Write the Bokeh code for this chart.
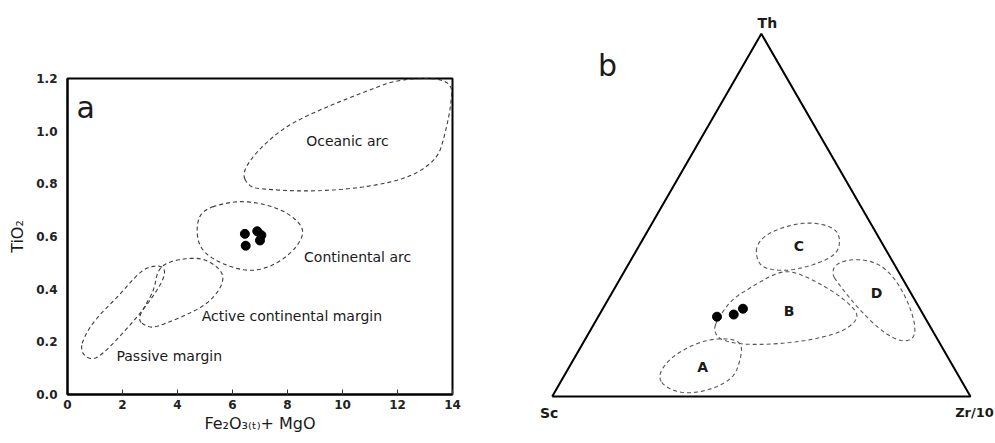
import numpy as np
from bokeh.plotting import figure
from bokeh.layouts import row, column
from bokeh.models import Range1d, FixedTicker, CustomJSTickFormatter
from bokeh.core.properties import value
from bokeh.embed import file_html
from bokeh.resources import INLINE

# ---------------- Panel a data ----------------
a_x = [6.45, 6.48, 6.90, 7.05, 7.00]
a_y = [0.61, 0.565, 0.62, 0.605, 0.585]

oceanic_x = [6.33, 6.6, 7.03, 8.85, 10.9, 12.49, 13.45, 13.7, 13.94, 14.0, 12.12, 10.91, 9.09, 7.88, 6.9]
oceanic_y = [0.84, 0.79, 0.78, 0.77, 0.787, 0.825, 0.895, 0.977, 1.09, 1.2, 1.2, 1.154, 1.078, 1.015, 0.926]

cont_x = [4.85, 5.82, 6.67, 7.76, 8.43, 8.61, 8.24, 7.52, 6.61, 5.57, 4.85, 4.67]
cont_y = [0.699, 0.73, 0.734, 0.705, 0.655, 0.61, 0.547, 0.49, 0.465, 0.497, 0.547, 0.623]

active_x = [2.55, 2.91, 3.27, 4.85, 5.45, 5.7, 5.52, 4.97, 4.36, 3.64, 3.27, 3.15, 2.79]
active_y = [0.282, 0.256, 0.256, 0.326, 0.383, 0.44, 0.48, 0.516, 0.518, 0.503, 0.471, 0.396, 0.332]

passive_x = [0.545, 0.49, 0.79, 1.21, 2.55, 3.27, 3.54, 3.51, 3.15, 2.67, 1.82, 0.97]
passive_y = [0.206, 0.162, 0.133, 0.143, 0.294, 0.396, 0.452, 0.484, 0.49, 0.471, 0.37, 0.282]

a_labels = ["Oceanic arc", "Continental arc", "Active continental margin", "Passive margin"]
a_label_x = [10.18, 10.55, 8.16, 3.7]
a_label_y = [0.964, 0.524, 0.297, 0.145]

x_ticks = [0, 2, 4, 6, 8, 10, 12, 14]
y_ticks = [0.0, 0.2, 0.4, 0.6, 0.8, 1.0, 1.2]

# ---------------- Panel b data (ternary fractions) ----------------
b_th = [0.22, 0.226, 0.242]
b_zr = [0.284, 0.321, 0.335]

A_th = [0.053, 0.021, 0.007, 0.021, 0.053, 0.099, 0.141, 0.159, 0.159, 0.136, 0.099]
A_zr = [0.225, 0.265, 0.320, 0.376, 0.408, 0.400, 0.384, 0.355, 0.299, 0.255, 0.226]

B_th = [0.21, 0.182, 0.154, 0.141, 0.15, 0.173, 0.2, 0.228, 0.269, 0.311, 0.345, 0.343, 0.301, 0.265]
B_zr = [0.289, 0.295, 0.325, 0.404, 0.518, 0.595, 0.621, 0.619, 0.563, 0.486, 0.406, 0.367, 0.324, 0.294]

C_th = [0.421, 0.393, 0.357, 0.347, 0.349, 0.366, 0.393, 0.435, 0.467, 0.481, 0.471, 0.449]
C_zr = [0.280, 0.290, 0.320, 0.365, 0.404, 0.451, 0.485, 0.472, 0.440, 0.377, 0.327, 0.290]

D_th = [0.338, 0.315, 0.246, 0.182, 0.15, 0.159, 0.2, 0.265, 0.329, 0.37, 0.38, 0.366]
D_zr = [0.500, 0.524, 0.606, 0.694, 0.758, 0.786, 0.768, 0.717, 0.653, 0.592, 0.531, 0.494]

region_names = ["A", "B", "C", "D"]
region_label_th = [0.081, 0.237, 0.416, 0.285]
region_label_zr = [0.319, 0.448, 0.382, 0.633]

vertex_names = ["Th", "Sc", "Zr/10"]

FONT = "DejaVu Sans"
DASH = "4 3"
TXT = "#1a1a1a"


def chaikin(xs, ys, n=3):
    pts = np.column_stack([xs, ys]).astype(float)
    for _ in range(n):
        nxt = np.roll(pts, -1, axis=0)
        q = 0.75 * pts + 0.25 * nxt
        r = 0.25 * pts + 0.75 * nxt
        pts = np.empty((2 * len(q), 2))
        pts[0::2] = q
        pts[1::2] = r
    pts = np.vstack([pts, pts[:1]])
    return pts[:, 0], pts[:, 1]


# ---------------- Figure a ----------------
pa = figure(width=500, height=443, output_backend="svg", toolbar_location=None,
            x_range=Range1d(0, 14), y_range=Range1d(0, 1.2),
            min_border_left=67, min_border_right=48, min_border_top=78, min_border_bottom=49)
pa.grid.visible = False
pa.outline_line_color = "black"
pa.outline_line_width = 2
pa.background_fill_color = "white"
pa.border_fill_color = "white"

for ax in (pa.xaxis[0], pa.yaxis[0]):
    ax.axis_line_width = 2
    ax.axis_line_color = "black"
    ax.major_tick_out = 0
    ax.minor_tick_out = 0
    ax.minor_tick_in = 0
    ax.major_tick_line_color = "#333"
    ax.major_label_text_font = FONT
    ax.major_label_text_font_size = "12px"
    ax.major_label_text_font_style = "bold"
    ax.major_label_text_color = "#222"
    ax.axis_label_text_font = FONT
    ax.axis_label_text_font_style = "normal"
    ax.axis_label_text_font_size = "16px"
    ax.axis_label_text_color = TXT

pa.xaxis.ticker = FixedTicker(ticks=x_ticks)
pa.yaxis.ticker = FixedTicker(ticks=y_ticks)
pa.xaxis.major_tick_in = 5
pa.yaxis.major_tick_in = 0
pa.xaxis.major_label_standoff = 5
pa.yaxis.major_label_standoff = 10
pa.yaxis.formatter = CustomJSTickFormatter(code="return tick.toFixed(1);")
pa.xaxis.axis_label = "Fe₂O₃₍ₜ₎+ MgO"
pa.yaxis.axis_label = "TiO₂"
pa.xaxis.axis_label_standoff = 2
pa.yaxis.axis_label_standoff = 6

for xs, ys in [(oceanic_x, oceanic_y), (cont_x, cont_y), (active_x, active_y), (passive_x, passive_y)]:
    sx, sy = chaikin(xs, ys)
    pa.line(sx, sy, line_dash=DASH, line_color="#3a3a3a", line_width=1.1)

pa.scatter(a_x, a_y, size=9, color="black")

pa.text(a_label_x, a_label_y, text=a_labels, text_align="center", text_baseline="middle",
        text_font=value(FONT), text_font_size="14px", text_color=TXT)
pa.text([0.33], [1.088], text=["a"], text_align="left", text_baseline="alphabetic",
        text_font=value(FONT), text_font_size="30px", text_color=TXT)

# ---------------- Figure b ----------------
pb = figure(width=495, height=443, output_backend="svg", toolbar_location=None,
            x_range=Range1d(-0.1236, 1.0598), y_range=Range1d(-0.1296, 1.0918),
            min_border=0, min_border_left=0, min_border_right=0,
            min_border_top=0, min_border_bottom=0)
pb.axis.visible = False
pb.grid.visible = False
pb.outline_line_color = None
pb.background_fill_color = "white"
pb.border_fill_color = "white"


def tern(th, zr):
    th = np.asarray(th, float)
    zr = np.asarray(zr, float)
    return zr + th / 2.0, th


vert_th = [0.0, 0.0, 1.0, 0.0]
vert_zr = [0.0, 1.0, 0.0, 0.0]
tx, ty = tern(vert_th, vert_zr)
pb.line(tx, ty, line_color="black", line_width=2)

for th, zr in [(A_th, A_zr), (B_th, B_zr), (C_th, C_zr), (D_th, D_zr)]:
    x, y = tern(th, zr)
    sx, sy = chaikin(x, y)
    pb.line(sx, sy, line_dash=DASH, line_color="#555", line_width=1.1)

px_, py_ = tern(b_th, b_zr)
pb.scatter(px_, py_, size=9, color="black")

lx, ly = tern(region_label_th, region_label_zr)
pb.text(lx, ly, text=region_names, text_align="center", text_baseline="middle",
        text_font=value(FONT), text_font_size="14px", text_font_style="bold", text_color=TXT)

vx, vy = tern([1.0, 0.0, 0.0], [0.0, 0.0, 1.0])
pb.text([vx[0]], [vy[0]], text=[vertex_names[0]], text_align="center", text_baseline="bottom",
        text_font=value(FONT), text_font_size="14px", text_font_style="bold", text_color=TXT,
        x_offset=6, y_offset=-3)
pb.text([vx[1]], [vy[1]], text=[vertex_names[1]], text_align="center", text_baseline="top",
        text_font=value(FONT), text_font_size="14px", text_font_style="bold", text_color=TXT,
        x_offset=-3, y_offset=9)
pb.text([vx[2]], [vy[2]], text=[vertex_names[2]], text_align="center", text_baseline="top",
        text_font=value(FONT), text_font_size="13px", text_font_style="bold", text_color=TXT,
        x_offset=4, y_offset=9)
pb.text([0.132], [0.913], text=["b"], text_align="center", text_baseline="alphabetic",
        text_font=value(FONT), text_font_size="30px", text_color=TXT)

layout = row(column(pa), column(pb))
open("out.html", "w").write(file_html(layout, INLINE))
